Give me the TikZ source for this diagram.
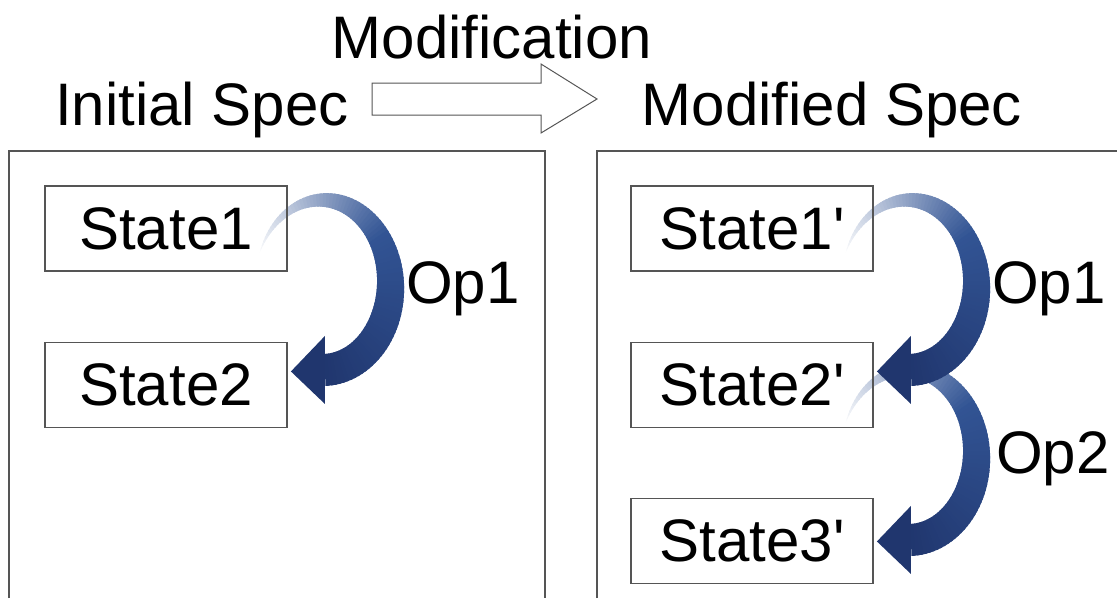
\documentclass[tikz,border=0pt]{standalone}
\usepackage{fontspec}
\setmainfont{Liberation Sans}[Ligatures=TeXOff]
\usetikzlibrary{calc}

\definecolor{opblue}{RGB}{50,84,148}
\definecolor{opdark}{RGB}{32,54,110}
\definecolor{frame}{RGB}{85,85,85}

\pgfdeclarelayer{bg}
\pgfsetlayers{bg,main}

\tikzset{
  panel/.style={draw=frame, line width=1.4pt},
  statebox/.style={draw=frame, line width=1.1pt, minimum width=242pt,
    minimum height=85pt, inner sep=0pt, font=\fontsize{60}{60}\selectfont},
  title/.style={font=\fontsize{60}{60}\selectfont, inner sep=0pt, anchor=base},
  oplabel/.style={font=\fontsize{60}{60}\selectfont, inner sep=0pt, anchor=base},
  blockarrow/.style={draw=frame, line width=1pt, fill=white, line join=miter},
}

% Bent arrow that widens and darkens along its course; #1 is the centre of the bend
\newcommand\bendarrow[1]{%
  \begin{scope}[shift={#1}]
    \foreach \i in {0,...,89}{
      \pgfmathsetmacro\ta{\i/90}
      \pgfmathsetmacro\tb{min(1,(\i+1.6)/90)}
      \pgfmathsetmacro\aa{158-246*\ta}
      \pgfmathsetmacro\ab{158-246*\tb}
      \pgfmathsetmacro\wa{16*sin(90*\ta)}
      \pgfmathsetmacro\wb{16*sin(90*\tb)}
      \pgfmathsetmacro\pone{min(100,3+97*\ta/0.5)}
      \pgfmathsetmacro\ptwo{max(0,min(100,(\ta-0.5)/0.5*100))}
      \fill[opdark!\ptwo!opblue!\pone!white]
        ({cos(\aa)*(68+\wa)},{-sin(\aa)*(85+\wa)}) --
        ({cos(\ab)*(68+\wb)},{-sin(\ab)*(85+\wb)}) --
        ({cos(\ab)*(68-\wb)},{-sin(\ab)*(85-\wb)}) --
        ({cos(\aa)*(68-\wa)},{-sin(\aa)*(85-\wa)}) -- cycle;
    }
    \fill[opdark] ({cos(-88)*68},{-sin(-88)*85-34}) --
      ({cos(-88)*68-34},{-sin(-88)*85+1.5}) --
      ({cos(-88)*68},{-sin(-88)*85+34}) -- cycle;
  \end{scope}}

\begin{document}
\begin{tikzpicture}[x=1pt,y=-1pt]
  \useasboundingbox (0,0) rectangle (1117,598);

  % the two panels, open at the lower edge
  \draw[panel] (9,598) -- (9,151) -- (545,151) -- (545,598);
  \draw[panel] (597,598) -- (597,151) -- (1117,151);

  % headings
  \node[title] (ini) at (202,125) {Initial Spec};
  \node[title] (mdf) at (832,125) {Modified Spec};
  \node[title] (chg) at (492,58) {Modification};

  % block arrow between the headings
  \coordinate (ba) at (372,99);
  \draw[blockarrow] (ba) ++(0,-16) -- ++(169,0) -- ++(0,-19) -- ++(56,35)
    -- ++(-56,34) -- ++(0,-18) -- ++(-169,0) -- cycle;

  % states
  \node[statebox] (s1) at (166,228.5) {State1};
  \node[statebox] (s2) at (166,385) {State2};
  \node[statebox] (t1) at (752,228.5) {State1'};
  \node[statebox] (t2) at (752,385) {State2'};
  \node[statebox] (t3) at (752,541) {State3'};

  % operations
  \begin{pgfonlayer}{bg}
    \bendarrow{($(t2.east)!0.5!(t3.east)+(35,-8)$)}
    \bendarrow{($(s1.east)!0.5!(s2.east)+(35,-21.75)$)}
    \bendarrow{($(t1.east)!0.5!(t2.east)+(35,-21.75)$)}
  \end{pgfonlayer}

  \node[oplabel] (op1) at (463,303) {Op1};
  \node[oplabel] (op1r) at (1049,303) {Op1};
  \node[oplabel] (op2r) at (1053,473) {Op2};
\end{tikzpicture}
\end{document}
